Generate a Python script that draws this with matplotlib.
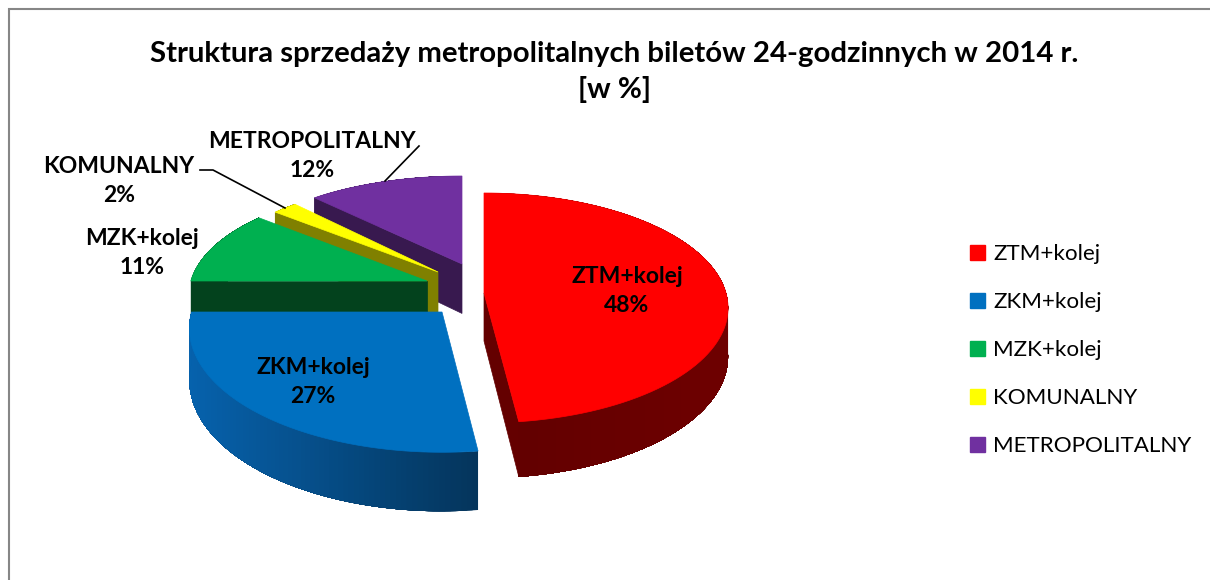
"""Pseudo-3D exploded pie: struktura sprzedazy biletow 24-godzinnych."""

import matplotlib

matplotlib.use("Agg")
import matplotlib.pyplot as plt
import numpy as np
from matplotlib.patches import Patch, Polygon, Rectangle

TITLE = "Struktura sprzedaży metropolitalnych biletów 24-godzinnych w 2014 r.\n[w %]"
categories = ["ZTM+kolej", "ZKM+kolej", "MZK+kolej", "KOMUNALNY", "METROPOLITALNY"]
shares = [48, 27, 11, 2, 12]

top_colors = ["#FF0000", "#0070C0", "#00B050", "#FFFF00", "#7030A0"]
cut_colors = ["#640000", "#063a63", "#03421d", "#808000", "#38194f"]
wall_left = ["#600000", "#0662ad", "#03421d", "#808000", "#38194f"]
wall_right = ["#6e0000", "#05355c", "#03421d", "#808000", "#38194f"]

# Pixel layout of the exploded slices
apexes = [(484, 293), (442, 312), (427, 281), (438, 272), (462, 264)]
scale_x = [1.0, 1.035, 0.976, 0.945, 0.975]
scale_y = [1.0, 1.08, 0.95, 0.90, 0.88]
depth_scale = [1.0, 1.07, 1.0, 1.0, 1.03]
label_xy = [(627, 291), (313, 382), (142, 253), (119, 181), (312, 156)]
RX, RY, PERSP, DEPTH = 242, 113, 0.13, 48
DRAW_ORDER = [4, 3, 2, 1, 0]


def _project(i, theta, bottom=False):
    """Map an angle (clockwise from 12 o'clock) on a slice rim to pixels."""
    ax0, ay0 = apexes[i]
    u, v = np.sin(theta), np.cos(theta)
    w = 1 + PERSP * v
    x = ax0 + RX * scale_x[i] * u / w
    y = ay0 - RY * scale_y[i] * v / w
    if bottom:
        y = y + DEPTH * depth_scale[i] / w
    return np.column_stack([x, y])


def _draw_slice(ax, i, start, stop):
    apex = apexes[i]
    thetas = np.linspace(start, stop, 90)
    rim = _project(i, thetas)
    low = _project(i, thetas, bottom=True)

    # Outer wall: each band paints over the rest of the wall, so no seams show
    c0 = np.array(matplotlib.colors.to_rgb(wall_left[i]))
    c1 = np.array(matplotlib.colors.to_rgb(wall_right[i]))
    xmin = rim[:, 0].min()
    span = max(rim[:, 0].max() - xmin, 1)
    for j in range(len(thetas) - 1):
        col = c0 + (c1 - c0) * (rim[j, 0] - xmin) / span
        band = np.vstack([rim[j:], low[j:][::-1]])
        ax.add_patch(Polygon(band, fc=col, ec="none"))

    # Cut face that looks at the viewer (the blue one faces away)
    apex_low = (apex[0], apex[1] + DEPTH * depth_scale[i])
    end = -1 if i == 0 else 0
    if i != 1:
        cut = [apex, rim[end], low[end], apex_low]
        ax.add_patch(Polygon(cut, fc=cut_colors[i], ec=cut_colors[i], lw=0.5))

    # Top surface
    top = np.vstack([[apex], rim])
    ax.add_patch(Polygon(top, fc=top_colors[i], ec=top_colors[i], lw=0.5))


def main():
    plt.rcParams["font.family"] = ["Lato", "DejaVu Sans"]
    fig = plt.figure(figsize=(12.1, 5.8), dpi=100)
    ax = fig.add_axes([0, 0, 1, 1])
    ax.set_xlim(0, 1210)
    ax.set_ylim(580, 0)
    ax.axis("off")

    ax.add_patch(Rectangle((9, 9), 1300, 700, fc="white", ec="#868686", lw=1.5))

    edges = np.radians(np.cumsum([0] + shares) * 3.6)
    for i in DRAW_ORDER:
        _draw_slice(ax, i, edges[i], edges[i + 1])

    ax.plot([419, 385], [146, 181], color="black", lw=1.2)
    ax.plot([200, 213, 285], [170, 170, 208], color="black", lw=1.2)

    ax.text(614, 72, TITLE, ha="center", va="center", fontsize=21.2,
            fontweight="bold", linespacing=1.39)

    for name, share, (x, y) in zip(categories, shares, label_xy):
        ax.text(x, y, f"{name}\n{share}%", ha="center", va="center",
                fontsize=16.5, fontweight="bold", linespacing=1.45)

    handles = [Patch(fc=c, ec=c) for c in top_colors]
    ax.legend(handles, categories, loc="upper left", bbox_to_anchor=(970 / 1210, 1 - 244 / 580),
              frameon=False, fontsize=16.1, handlelength=0.66, handleheight=0.66,
              handletextpad=0.38, labelspacing=1.255, borderpad=0, borderaxespad=0)

    fig.savefig("out.png", dpi=100)
    plt.close(fig)


if __name__ == "__main__":
    main()
